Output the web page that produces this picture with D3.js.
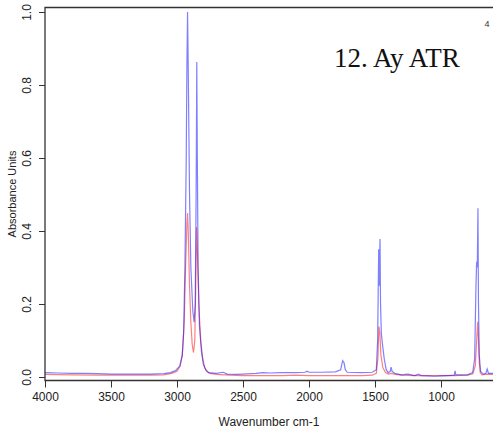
<!DOCTYPE html>
<html>
<head>
<meta charset="utf-8">
<script src="https://cdn.jsdelivr.net/npm/d3@7"></script>
<style>
  body { margin: 0; background: #fff; }
  svg { display: block; }
</style>
</head>
<body>
<div id="chart"></div>
<script>
// spectrum 1 (blue) : [wavenumber, absorbance]
var blue_spectrum = [
  [4000, 0.012], [3900, 0.011], [3800, 0.010], [3700, 0.010], [3600, 0.009],
  [3500, 0.008], [3400, 0.008], [3300, 0.008], [3200, 0.008], [3100, 0.009],
  [3050, 0.012], [3010, 0.018], [2980, 0.030], [2960, 0.060], [2950, 0.12],
  [2940, 0.30], [2930, 0.60], [2925, 0.85], [2920, 1.0], [2915, 0.85],
  [2905, 0.50], [2895, 0.30], [2880, 0.18], [2870, 0.15], [2862, 0.20],
  [2855, 0.50], [2850, 0.863], [2846, 0.60], [2840, 0.30], [2830, 0.14],
  [2815, 0.07], [2800, 0.035], [2780, 0.018], [2760, 0.012], [2700, 0.010],
  [2650, 0.013], [2620, 0.008], [2550, 0.007], [2500, 0.008], [2400, 0.010],
  [2350, 0.012], [2300, 0.011], [2200, 0.012], [2100, 0.012], [2030, 0.013],
  [2015, 0.016], [2000, 0.013], [1900, 0.013], [1800, 0.014], [1760, 0.020],
  [1745, 0.045], [1735, 0.040], [1725, 0.020], [1710, 0.013], [1600, 0.012],
  [1520, 0.013], [1490, 0.020], [1480, 0.10], [1472, 0.35], [1468, 0.25],
  [1462, 0.378], [1458, 0.20], [1452, 0.12], [1445, 0.095], [1430, 0.05],
  [1415, 0.02], [1400, 0.012], [1385, 0.015], [1378, 0.027], [1370, 0.015],
  [1350, 0.010], [1300, 0.006], [1250, 0.008], [1200, 0.004], [1170, 0.008],
  [1150, 0.004], [1100, 0.003], [1050, 0.002], [1000, 0.003], [950, 0.004],
  [900, 0.005], [893, 0.017], [888, 0.006], [850, 0.006], [800, 0.006],
  [760, 0.012], [745, 0.05], [735, 0.25], [730, 0.316], [725, 0.30],
  [720, 0.462], [716, 0.20], [710, 0.06], [700, 0.015], [680, 0.008],
  [660, 0.010], [650, 0.022], [640, 0.010], [600, 0.010]
];

// spectrum 2 (red)
var red_spectrum = [
  [4000, 0.007], [3800, 0.006], [3600, 0.005], [3400, 0.005], [3200, 0.005],
  [3100, 0.006], [3040, 0.010], [3000, 0.016], [2975, 0.030], [2960, 0.06],
  [2945, 0.15], [2935, 0.30], [2925, 0.42], [2920, 0.449], [2915, 0.40],
  [2905, 0.25], [2895, 0.15], [2885, 0.09], [2875, 0.067], [2865, 0.10],
  [2858, 0.25], [2852, 0.41], [2846, 0.35], [2835, 0.20], [2820, 0.10],
  [2805, 0.05], [2790, 0.025], [2770, 0.014], [2750, 0.010], [2700, 0.007],
  [2600, 0.005], [2500, 0.004], [2400, 0.004], [2300, 0.004], [2200, 0.004],
  [2100, 0.005], [2000, 0.004], [1900, 0.004], [1800, 0.004], [1700, 0.004],
  [1600, 0.004], [1520, 0.005], [1490, 0.010], [1478, 0.05], [1470, 0.138],
  [1463, 0.12], [1455, 0.06], [1440, 0.025], [1420, 0.012], [1400, 0.008],
  [1375, 0.010], [1350, 0.007], [1300, 0.005], [1200, 0.004], [1100, 0.004],
  [1000, 0.004], [900, 0.004], [800, 0.005], [760, 0.008], [740, 0.03],
  [730, 0.10], [722, 0.151], [716, 0.10], [710, 0.04], [703, 0.012],
  [690, 0.006], [650, 0.008], [600, 0.007]
];

var x_ticks = [4000, 3500, 3000, 2500, 2000, 1500, 1000];
var y_ticks = [0.0, 0.2, 0.4, 0.6, 0.8, 1.0];

var width  = 493;
var height = 432;
var left   = 45;
var top_y  = 7.5;
var bottom = 380.5;

var svg = d3.select('#chart')
    .append('svg')
    .attr('width', width)
    .attr('height', height);

var scale_x = d3.scaleLinear()
                .domain([4000, 606])
                .range([left, width]);
var scale_y = d3.scaleLinear()
                .domain([0, 1])
                .range([377, 12]);

svg.append('clipPath').attr('id', 'plot-clip')
   .append('rect')
   .attr('x', left).attr('y', top_y)
   .attr('width', width - left).attr('height', bottom - top_y);

var line = d3.line()
             .x(function(d){ return scale_x(d[0]); })
             .y(function(d){ return scale_y(d[1]); });

var plot = svg.append('g').attr('clip-path', 'url(#plot-clip)');
plot.append('path')
    .datum(red_spectrum)
    .attr('d', line)
    .attr('fill', 'none')
    .attr('stroke', 'rgba(255,0,0,0.5)')
    .attr('stroke-width', 1.2);
plot.append('path')
    .datum(blue_spectrum)
    .attr('d', line)
    .attr('fill', 'none')
    .attr('stroke', 'rgba(0,0,255,0.5)')
    .attr('stroke-width', 1.2);

// box (top, left, bottom)
svg.append('path')
   .attr('d', 'M' + width + ',' + top_y + 'H' + left + 'V' + bottom + 'H' + width)
   .attr('fill', 'none')
   .attr('stroke', '#333')
   .attr('stroke-width', 1.3);

var axis_x = d3.axisBottom(scale_x)
               .tickValues(x_ticks)
               .tickSize(7)
               .tickSizeOuter(0)
               .tickPadding(5)
               .tickFormat(d3.format('d'));
var gx = svg.append('g')
   .attr('class', 'x-axis')
   .attr('transform', 'translate(0,' + bottom + ')')
   .call(axis_x);
gx.select('.domain').remove();

var axis_y = d3.axisLeft(scale_y)
               .tickValues(y_ticks)
               .tickSize(6)
               .tickSizeOuter(0)
               .tickFormat(d3.format('.1f'));
var gy = svg.append('g')
   .attr('class', 'y-axis')
   .attr('transform', 'translate(' + left + ',0)')
   .call(axis_y);
gy.select('.domain').remove();
// R style: labels turned parallel to the axis
gy.selectAll('text')
  .attr('x', null).attr('dy', null).attr('y', 0)
  .attr('text-anchor', 'middle')
  .attr('transform', 'translate(-14,0) rotate(-90)');

svg.selectAll('.tick line').attr('stroke', '#333');
svg.selectAll('.tick text')
   .attr('fill', '#222')
   .style('font-family', 'Liberation Sans, Arial, sans-serif')
   .style('font-size', '12px');

svg.append('text')
   .attr('x', (left + width) / 2)
   .attr('y', 426)
   .attr('text-anchor', 'middle')
   .style('font-family', 'Liberation Sans, Arial, sans-serif')
   .style('font-size', '12px')
   .attr('fill', '#222')
   .text('Wavenumber cm-1');

svg.append('text')
   .attr('transform', 'translate(16,' + ((top_y + bottom) / 2) + ') rotate(-90)')
   .attr('text-anchor', 'middle')
   .style('font-family', 'Liberation Sans, Arial, sans-serif')
   .style('font-size', '11px')
   .attr('fill', '#222')
   .text('Absorbance Units');

svg.append('text')
   .attr('x', 334)
   .attr('y', 67)
   .style('font-family', 'Liberation Serif, Times New Roman, serif')
   .style('font-size', '27px')
   .attr('fill', '#111')
   .text('12. Ay ATR');

svg.append('text')
   .attr('x', 487)
   .attr('y', 27)
   .attr('text-anchor', 'middle')
   .style('font-family', 'Liberation Sans, Arial, sans-serif')
   .style('font-size', '9px')
   .attr('fill', '#334')
   .text('4');
</script>
</body>
</html>
